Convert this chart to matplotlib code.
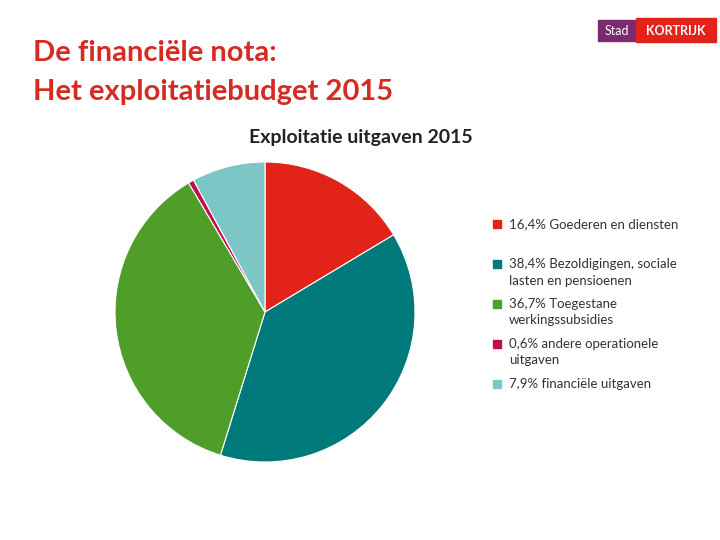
import matplotlib.pyplot as plt
from matplotlib.patches import Rectangle

plt.rcParams['font.family'] = ['Lato', 'DejaVu Sans']

categories = ["Goederen en diensten",
              "Bezoldigingen, sociale\nlasten en pensioenen",
              "Toegestane\nwerkingssubsidies",
              "andere operationele\nuitgaven",
              "financiële uitgaven"]
shares = [16.4, 38.4, 36.7, 0.6, 7.9]
share_labels = ["16,4%", "38,4%", "36,7%", "0,6%", "7,9%"]
colors = ["#E2231A", "#00797A", "#4F9E2A", "#C10E4F", "#7CC6C5"]

W, H = 720, 540
fig = plt.figure(figsize=(7.2, 5.4), dpi=100)

# heading
fig.text(33 / W, 1 - 53 / H, "De financiële nota:", color="#D42B22",
         fontsize=21, fontweight="bold", va="center", ha="left")
fig.text(33 / W, 1 - 92 / H, "Het exploitatiebudget 2015", color="#D42B22",
         fontsize=21, fontweight="bold", va="center", ha="left")

# logo
fig.patches.append(Rectangle((598 / W, 1 - 41 / H), 38 / W, 21 / H,
                             transform=fig.transFigure, color="#7B2A6E"))
fig.patches.append(Rectangle((636 / W, 1 - 42 / H), 80 / W, 24 / H,
                             transform=fig.transFigure, color="#E2231A"))
fig.text(617 / W, 1 - 31 / H, "Stad", color="white", fontsize=9,
         ha="center", va="center")
fig.text(676 / W, 1 - 31 / H, "KORTRIJK", color="white", fontsize=9,
         ha="center", va="center", fontweight="bold")

# pie
ax = fig.add_axes([115 / W, 1 - 462 / H, 300 / W, 300 / H])
ax.pie(shares, colors=colors, startangle=90, counterclock=False, radius=1,
       frame=False, wedgeprops=dict(edgecolor="white", linewidth=0.8))
ax.set_xlim(-1, 1)
ax.set_ylim(-1, 1)
ax.set_aspect("equal")
ax.axis("off")

fig.text(361 / W, 1 - 138 / H, "Exploitatie uitgaven 2015", fontsize=14,
         fontweight="bold", ha="center", va="center", color="#222222")

# legend
y0 = 224
for i, (lab, pct, c) in enumerate(zip(categories, share_labels, colors)):
    y = y0 + 40 * i
    fig.patches.append(Rectangle((493 / W, 1 - (y + 4) / H), 8 / W, 8 / H,
                                 transform=fig.transFigure, color=c))
    fig.text(509 / W, 1 - (y - 6) / H, pct + " " + lab, fontsize=9.5,
             ha="left", va="top", color="#333333", linespacing=1.45)

fig.savefig("out.png", dpi=100)
